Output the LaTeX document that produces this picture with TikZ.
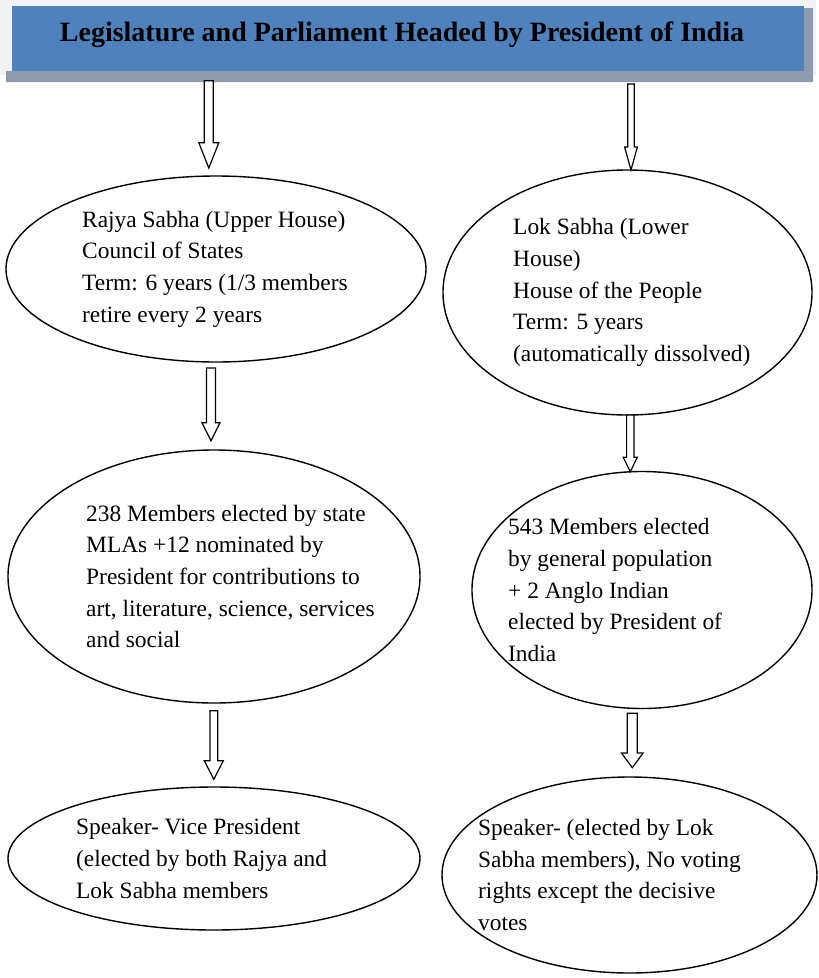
\documentclass[tikz,border=0pt]{standalone}
\usepackage{fontspec}
\setmainfont{Liberation Serif}
\usetikzlibrary{shapes.geometric,calc}

\definecolor{bannerblue}{HTML}{4F81BD}
\definecolor{bannershadow}{HTML}{8E9CAE}
\definecolor{bannerframe}{HTML}{F2F2F2}

\tikzset{
  house/.style={draw=black, line width=1.4pt, ellipse, inner sep=0pt},
  info/.style={anchor=west, align=left, inner sep=0pt,
               font=\fontsize{23.4}{31.7}\selectfont},
  hollow/.style={draw=black, line width=1.2pt, fill=white, line join=miter},
}

% hollow block arrow: start, tip, half shaft width, half head width, head length
\newcommand\hollowarrow[5]{%
  \draw[hollow] let \p1=(#1), \p2=(#2) in
    (\x1-#3pt,\y1) -- (\x1+#3pt,\y1) -- (\x1+#3pt,\y2+#5pt) --
    (\x1+#4pt,\y2+#5pt) -- (\x2,\y2) -- (\x1-#4pt,\y2+#5pt) --
    (\x1-#3pt,\y2+#5pt) -- cycle;}

\begin{document}
\begin{tikzpicture}[x=1pt,y=-1pt]
\useasboundingbox (0,0) rectangle (819,978);

% banner with its frame and drop shadow
\fill[bannerframe] (0,0) rectangle (816,75);
\fill[bannershadow] (804,8) -- (813,8) -- (813,82) -- (6,82) -- (6,71) -- (804,71) -- cycle;
\node[fill=bannerblue, inner sep=0pt, minimum width=792pt, minimum height=65pt]
  (banner) at (407.5,38.5) {};
\node[anchor=base, inner sep=0pt, font=\fontsize{28}{32}\selectfont\bfseries]
  (title) at (402,41.7) {Legislature and Parliament Headed by President of India};

% the two houses
\node[house, minimum width=420pt, minimum height=186pt] (e1) at (216,269) {};
\node[info] (t1) at (82,269) {Rajya Sabha (Upper House)\\Council of States\\Term: 6 years (1/3 members\\retire every 2 years};

\node[house, minimum width=369pt, minimum height=245pt] (e2) at (627.5,292.5) {};
\node[info] (t2) at (513,292.5) {Lok Sabha (Lower\\House)\\House of the People\\Term: 5 years\\(automatically dissolved)};

% membership
\node[house, minimum width=412pt, minimum height=253pt] (e3) at (214,576.5) {};
\node[info] (t3) at (86,576.5) {238 Members elected by state\\MLAs +12 nominated by\\President for contributions to\\art, literature, science, services\\and social};

\node[house, minimum width=340pt, minimum height=237pt] (e4) at (642,590) {};
\node[info] (t4) at (508,590) {543 Members elected\\by general population\\+ 2 Anglo Indian\\elected by President of\\India};

% presiding officers
\node[house, minimum width=412pt, minimum height=143pt] (e5) at (214,858.5) {};
\node[info] (t5) at (76,858.5) {Speaker- Vice President\\(elected by both Rajya and\\Lok Sabha members};

\node[house, minimum width=375pt, minimum height=196pt] (e6) at (629.5,875) {};
\node[info] (t6) at (478,875) {Speaker- (elected by Lok\\Sabha members), No voting\\rights except the decisive\\votes};

% arrow ends
\coordinate (a1s) at (208.8,80.7);  \coordinate (a1e) at (208.8,168);
\coordinate (a2s) at (631,84);      \coordinate (a2e) at (631,170);
\coordinate (a3s) at (211,368);     \coordinate (a3e) at (211,440.7);
\coordinate (a4s) at (630.3,415);   \coordinate (a4e) at (630.3,471.7);
\coordinate (a5s) at (213.8,710.7); \coordinate (a5e) at (213.8,779.3);
\coordinate (a6s) at (632.3,713.3); \coordinate (a6e) at (632.3,767.7);

\hollowarrow{a1s}{a1e}{4.5}{10}{25.3}
\hollowarrow{a2s}{a2e}{3.3}{6.4}{23}
\hollowarrow{a3s}{a3e}{4.5}{9}{18}
\hollowarrow{a4s}{a4e}{3.7}{7}{14.4}
\hollowarrow{a5s}{a5e}{3.9}{9.5}{18.6}
\hollowarrow{a6s}{a6e}{5}{10.8}{14.7}
\end{tikzpicture}
\end{document}
